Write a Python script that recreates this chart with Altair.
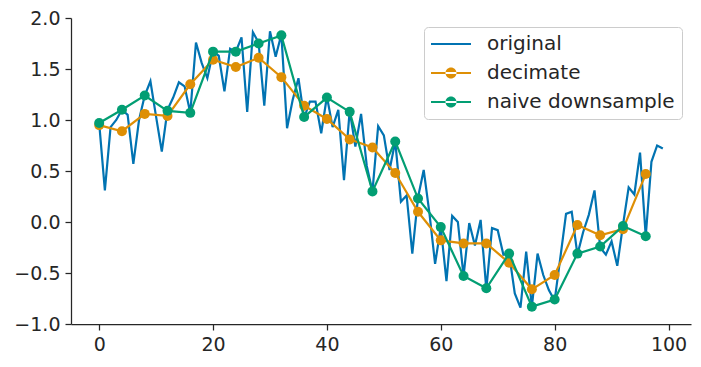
import altair as alt
import pandas as pd

# ---- data ----
orig_x = list(range(100))
original = [
    0.97, 0.31, 0.93, 1.00, 1.10, 1.05, 0.57, 1.00, 1.24, 1.38,
    1.03, 0.69, 1.10, 1.22, 1.37, 1.33, 1.07, 1.76, 1.56, 1.41,
    1.67, 1.63, 1.28, 1.70, 1.67, 1.81, 1.08, 1.86, 1.76, 1.14,
    1.87, 1.62, 1.84, 0.92, 1.20, 1.41, 1.02, 1.18, 1.18, 0.87,
    1.23, 0.93, 1.10, 0.41, 1.09, 0.74, 1.06, 0.55, 0.30, 0.94,
    0.85, 0.51, 0.79, 0.20, 0.26, -0.31, 0.24, 0.51, 0.09, -0.41,
    -0.05, -0.58, 0.06, 0.00, -0.53, -0.01, -0.23, 0.02, -0.66, -0.06,
    -0.08, -0.32, -0.31, -0.70, -0.84, -0.29, -0.83, -0.31, -0.52, -0.67,
    -0.77, -0.35, 0.08, 0.10, -0.32, -0.10, 0.07, 0.31, -0.25, -0.32,
    -0.19, -0.43, -0.03, 0.34, 0.27, 0.68, -0.14, 0.59, 0.75, 0.72,
]
down_x = list(range(0, 100, 4))
decimate = [
    0.95, 0.89, 1.06, 1.04, 1.35, 1.59, 1.52, 1.61, 1.42, 1.14,
    1.01, 0.81, 0.73, 0.48, 0.10, -0.18, -0.21, -0.21, -0.40, -0.66,
    -0.52, -0.03, -0.13, -0.07, 0.47,
]
naive = [
    0.97, 1.10, 1.24, 1.09, 1.07, 1.67, 1.67, 1.75, 1.83, 1.03,
    1.22, 1.08, 0.30, 0.79, 0.23, -0.05, -0.53, -0.65, -0.31, -0.83,
    -0.76, -0.31, -0.24, -0.04, -0.14,
]
series_names = ["original", "decimate", "naive downsample"]
series_colors = ["#0173b2", "#de8f05", "#029e73"]
x_ticks = [0, 20, 40, 60, 80, 100]
y_ticks = [-1.0, -0.5, 0.0, 0.5, 1.0, 1.5, 2.0]

df_orig = pd.DataFrame({"x": orig_x, "y": original})
df_dec = pd.DataFrame({"x": down_x, "y": decimate})
df_naive = pd.DataFrame({"x": down_x, "y": naive})
df_legend = pd.DataFrame({"series": series_names})

TXT = "#262626"
color_scale = alt.Scale(domain=series_names, range=series_colors)

line_path = "M-1,-0.11L3,-0.11L3,0.11L-1,0.11Z"
dot_path = line_path + "M0.45,0A0.55,0.55 0 1,0 1.55,0A0.55,0.55 0 1,0 0.45,0Z"
shape_scale = alt.Scale(domain=series_names, range=[line_path, dot_path, dot_path])

x_enc = alt.X(
    "x:Q",
    scale=alt.Scale(domain=[-4.95, 103.95], nice=False, zero=False),
    axis=alt.Axis(values=x_ticks, format="d", title=None),
)
y_enc = alt.Y(
    "y:Q",
    scale=alt.Scale(domain=[-1.0, 2.0], nice=False, zero=False),
    axis=alt.Axis(values=y_ticks, format=".1f", title=None),
)


def line_layer(df, color):
    return alt.Chart(df).mark_line(strokeWidth=2.2, color=color).encode(x=x_enc, y=y_enc)


def point_layer(df, color):
    return alt.Chart(df).mark_point(
        filled=True, size=100, opacity=1, strokeWidth=0, color=color
    ).encode(x=x_enc, y=y_enc)


legend_props = dict(
    orient="none",
    legendX=353,
    legendY=9,
    symbolSize=400,
    symbolStrokeWidth=0,
    labelOffset=36,
    labelLimit=400,
    rowPadding=9,
    padding=7,
    labelFontSize=20,
    labelFont="DejaVu Sans",
    labelColor=TXT,
    strokeColor="#cccccc",
    fillColor="white",
    cornerRadius=4,
)

legend_layer = (
    alt.Chart(df_legend)
    .mark_point(filled=True, opacity=0, strokeWidth=0, size=0)
    .encode(
        color=alt.Color("series:N", scale=color_scale, title=None, legend=alt.Legend(**legend_props)),
        shape=alt.Shape("series:N", scale=shape_scale, title=None, legend=alt.Legend(**legend_props)),
        opacity=alt.value(0),
    )
)

chart = (
    alt.layer(
        line_layer(df_orig, series_colors[0]),
        line_layer(df_dec, series_colors[1]),
        point_layer(df_dec, series_colors[1]),
        line_layer(df_naive, series_colors[2]),
        point_layer(df_naive, series_colors[2]),
        legend_layer,
    )
    .properties(
        width=620,
        height=306,
        autosize=alt.AutoSizeParams(type="none"),
        padding={"left": 63, "top": 10, "right": 2, "bottom": 35},
    )
    .configure_view(stroke=None)
    .configure_legend(symbolOpacity=1)
    .configure_axis(
        grid=False,
        domainColor=TXT,
        domainWidth=1.25,
        tickColor=TXT,
        tickWidth=1.25,
        tickSize=6,
        labelFont="DejaVu Sans",
        labelFontSize=19,
        labelColor=TXT,
        labelPadding=5,
    )
)

chart.save("out.html", embed_options={"renderer": "svg", "actions": False})
